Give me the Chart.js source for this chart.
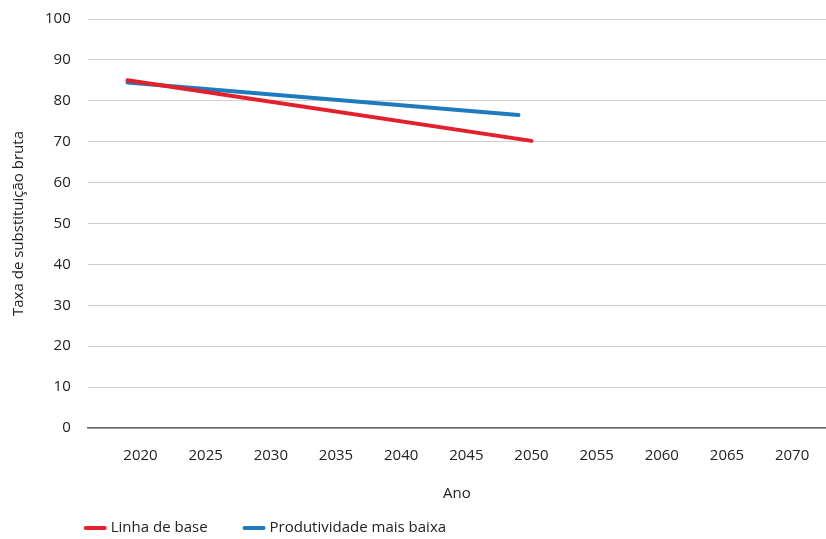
<!DOCTYPE html>
<html>
<head>
<meta charset="utf-8">
<script src="https://cdn.jsdelivr.net/npm/chart.js@4"></script>
<style>
  html, body { margin: 0; padding: 0; background: #fff; }
  #wrap { width: 826px; height: 539px; }
</style>
</head>
<body>
<div id="wrap"><canvas id="c" width="826" height="539"></canvas></div>
<script>
// Replacement-rate projections (years and values per series)
const tickYears = [2020, 2025, 2030, 2035, 2040, 2045, 2050, 2055, 2060, 2065, 2070];
const baseYears = [2019, 2050];
const baseValues = [85.0, 70.2];
const lowProdYears = [2019, 2049];
const lowProdValues = [84.5, 76.5];
const seriesNames = ['Linha de base', 'Produtividade mais baixa'];
const seriesColors = ['#e3202b', '#1f7bbf'];

const toPoints = (xs, ys) => xs.map((x, i) => ({ x: x, y: ys[i] }));

const FONT = '"Open Sans", sans-serif';
const TEXT = '#222';
Chart.defaults.font.family = FONT;
Chart.defaults.font.size = 15;
Chart.defaults.color = TEXT;

// Bottom legend: short round-capped line samples followed by the series name
const bottomLegend = {
  id: 'bottomLegend',
  afterDraw(chart) {
    const ctx = chart.ctx;
    const y = 528;
    let x = chart.chartArea.left - 2;
    ctx.save();
    ctx.font = '15px ' + FONT;
    ctx.textBaseline = 'middle';
    ctx.textAlign = 'left';
    chart.data.datasets.forEach((ds) => {
      ctx.strokeStyle = ds.borderColor;
      ctx.lineWidth = 4;
      ctx.lineCap = 'round';
      ctx.beginPath();
      ctx.moveTo(x, y);
      ctx.lineTo(x + 19, y);
      ctx.stroke();
      ctx.fillStyle = TEXT;
      ctx.fillText(ds.label, x + 25, y);
      x += 25 + ctx.measureText(ds.label).width + 37;
    });
    ctx.restore();
  }
};

new Chart(document.getElementById('c'), {
  type: 'line',
  data: {
    datasets: [
      {
        label: seriesNames[0],
        data: toPoints(baseYears, baseValues),
        borderColor: seriesColors[0],
        backgroundColor: seriesColors[0],
        borderWidth: 4,
        borderCapStyle: 'round',
        pointRadius: 0,
        tension: 0
      },
      {
        label: seriesNames[1],
        data: toPoints(lowProdYears, lowProdValues),
        borderColor: seriesColors[1],
        backgroundColor: seriesColors[1],
        borderWidth: 4,
        borderCapStyle: 'round',
        pointRadius: 0,
        tension: 0
      }
    ]
  },
  plugins: [bottomLegend],
  options: {
    responsive: false,
    animation: false,
    layout: { padding: { top: 19, right: 0, left: 10, bottom: 36 } },
    plugins: {
      tooltip: { enabled: false },
      legend: { display: false }
    },
    scales: {
      x: {
        type: 'linear',
        min: 2015.95,
        max: 2072.6,
        afterBuildTicks: (axis) => { axis.ticks = tickYears.map(v => ({ value: v })); },
        afterFit: (scale) => { scale.paddingRight = 0; },
        ticks: {
          autoSkip: false,
          maxRotation: 0,
          padding: 19,
          color: TEXT,
          callback: (v) => String(v)
        },
        grid: { display: false, drawTicks: false },
        border: { display: true, color: '#666', width: 1.5 },
        title: {
          display: true,
          text: 'Ano',
          color: TEXT,
          font: { size: 15, family: FONT },
          padding: { top: 1, bottom: 0 }
        }
      },
      y: {
        min: 0,
        max: 100,
        afterFit: (scale) => { scale.paddingTop = 0; },
        ticks: { stepSize: 10, padding: 17, color: TEXT },
        grid: { color: '#cfcfcf', lineWidth: 1, drawTicks: false },
        border: { display: false },
        title: {
          display: true,
          text: 'Taxa de substituição bruta',
          color: TEXT,
          font: { size: 15, family: FONT },
          padding: { top: 0, bottom: 0 }
        }
      }
    }
  }
});
</script>
</body>
</html>
